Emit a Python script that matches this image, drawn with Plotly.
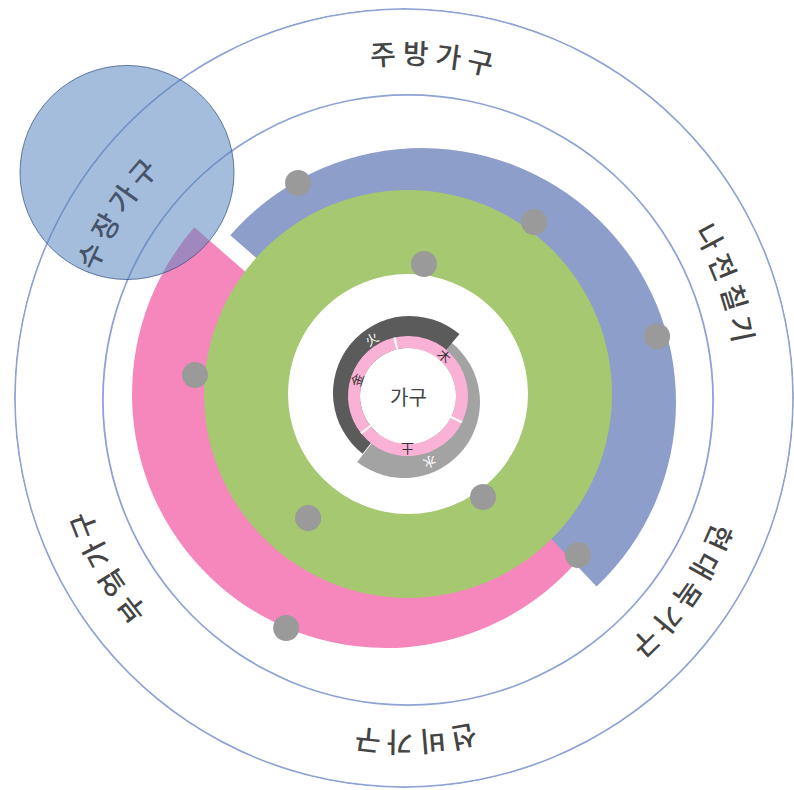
import math
import plotly.graph_objects as go

W, H = 794, 790

# ---------------- data ----------------
outer_labels = ["주방가구", "나전칠기", "현대목가구", "선비가구", "부엌가구", "수장가구"]
outer_label_angles = [85.3, 19.6, -34.6, -88.0, 209.7, 147.4]
outer_label_colors = ["#444444", "#444444", "#444444", "#444444", "#444444", "#46536A"]
label_radius = 346
label_step = 5.4

ring_radii = [390, 306]

pink_arc = dict(start=139, end=320, inner=175, outer=254)
blue_arc = dict(start=-46.6, end=139, inner=170, outer=254)
green_ring = dict(inner=120, outer=204)

light_gray_arc = dict(start=-128, end=52, inner=45, outer=76)
dark_gray_arc = dict(start=50, end=232, inner=45, outer=77)

center_disk_r = 48
pink_ring_width = 12
pink_dividers = [-26, 103, 218.5]

dot_r = [239.7, 214.8, 133, 256.1, 214, 125.8, 157.7, 232.8, 262.1]
dot_theta = [117.3, 54.1, 83.1, 13.5, 174.4, -53.4, -129.3, -43.1, -117.7]

element_chars = ["木", "火", "金", "土", "水"]
element_theta = [48, 122, 162, -90, -72]
element_r = [54, 68, 54, 54, 70]
element_colors = ["#333333", "#ffffff", "#333333", "#333333", "#ffffff"]

center_label = "가구"
bubble_r = 106

# subplot centers (pixel) and radii
centers = {
    "polar": (404, 398, 390),
    "polar2": (408, 400, 308),
    "polar3": (386, 394, 260),
    "polar4": (422, 402, 260),
    "polar5": (408, 394, 210),
    "polar6": (404, 402, 85),
    "polar7": (410, 393, 85),
    "polar8": (408, 396, 290),
    "polar9": (127, 172.5, 107),
}

RING_COLOR = "#8FA2D4"
PINK = "#F587BD"
BLUE = "#8E9ECB"
GREEN = "#A5C870"
DOT = "#9A9A9A"
DARK_GRAY = "#5B5B5B"
LIGHT_GRAY = "#A3A3A3"
PINK_LIGHT = "#F9B2D6"
BUBBLE = "rgba(90,135,191,0.55)"


def dom(cx, cy, R):
    return dict(x=[(cx - R) / W, (cx + R) / W], y=[(H - cy - R) / H, (H - cy + R) / H])


def arc_bar(arc, color, subplot):
    width = (arc["end"] - arc["start"]) % 360
    return go.Barpolar(theta=[arc["start"] + width / 2], width=[width], base=[arc["inner"]],
                       r=[arc["outer"] - arc["inner"]], marker=dict(color=color, line=dict(width=0)),
                       subplot=subplot, hoverinfo="skip", showlegend=False)


fig = go.Figure()

# outer guide circles
for sp, R in zip(["polar", "polar2"], ring_radii):
    fig.add_trace(go.Barpolar(theta=[0], width=[360], base=[R - 1.8], r=[1.8],
                              marker=dict(color=RING_COLOR, line=dict(width=0)),
                              subplot=sp, hoverinfo="skip", showlegend=False))

fig.add_trace(arc_bar(pink_arc, PINK, "polar3"))
fig.add_trace(arc_bar(blue_arc, BLUE, "polar4"))
fig.add_trace(go.Barpolar(theta=[0], width=[360], base=[green_ring["inner"]],
                          r=[green_ring["outer"] - green_ring["inner"]],
                          marker=dict(color=GREEN, line=dict(width=0)),
                          subplot="polar5", hoverinfo="skip", showlegend=False))
fig.add_trace(arc_bar(light_gray_arc, LIGHT_GRAY, "polar6"))
fig.add_trace(arc_bar(dark_gray_arc, DARK_GRAY, "polar7"))

# center: white disk, pink ring, white dividers
fig.add_trace(go.Barpolar(theta=[0], width=[360], base=[0], r=[center_disk_r],
                          marker=dict(color="white", line=dict(width=0)),
                          subplot="polar8", hoverinfo="skip", showlegend=False))
seg_c, seg_w = [], []
for i in range(len(pink_dividers)):
    a = pink_dividers[i]
    b = pink_dividers[(i + 1) % len(pink_dividers)]
    w = (b - a) % 360
    seg_c.append(a + w / 2)
    seg_w.append(w)
fig.add_trace(go.Barpolar(theta=seg_c, width=seg_w, base=[center_disk_r] * len(seg_c),
                          r=[pink_ring_width] * len(seg_c),
                          marker=dict(color=PINK_LIGHT, line=dict(width=0)),
                          subplot="polar8", hoverinfo="skip", showlegend=False))
fig.add_trace(go.Barpolar(theta=pink_dividers, width=[2.2] * len(pink_dividers),
                          base=[center_disk_r - 1] * len(pink_dividers),
                          r=[pink_ring_width + 1] * len(pink_dividers),
                          marker=dict(color="white", line=dict(width=0)),
                          subplot="polar8", hoverinfo="skip", showlegend=False))
fig.add_trace(go.Scatterpolar(r=dot_r, theta=dot_theta, mode="markers",
                              marker=dict(size=26, color=DOT), cliponaxis=False,
                              subplot="polar8", hoverinfo="skip", showlegend=False))

# translucent bubble
fig.add_trace(go.Barpolar(theta=[0], width=[360], base=[0], r=[bubble_r],
                          marker=dict(color=BUBBLE, line=dict(width=0)),
                          subplot="polar9", hoverinfo="skip", showlegend=False))

layout = dict(width=W, height=H, margin=dict(l=0, r=0, t=0, b=0), autosize=False,
              paper_bgcolor="white", plot_bgcolor="white", showlegend=False)
for sp, (cx, cy, R) in centers.items():
    ang = dict(visible=False, rotation=0, direction="counterclockwise")
    if sp == "polar9":
        ang = dict(visible=True, showline=True, linecolor="rgba(50,80,130,0.75)", linewidth=1,
                   showticklabels=False, ticks="", showgrid=False,
                   rotation=0, direction="counterclockwise")
    layout[sp] = dict(domain=dom(cx, cy, R), bgcolor="rgba(0,0,0,0)", barmode="overlay",
                      radialaxis=dict(visible=False, range=[0, R if sp != "polar9" else bubble_r]),
                      angularaxis=ang)
fig.update_layout(**layout)

# curved outer labels
annotations = []
lcx, lcy = 404, 398
for text, mid, col in zip(outer_labels, outer_label_angles, outer_label_colors):
    n = len(text)
    for i, ch in enumerate(text):
        th = mid + label_step * ((n - 1) / 2 - i)
        x = (lcx + label_radius * math.cos(math.radians(th))) / W
        y = 1 - (lcy - label_radius * math.sin(math.radians(th))) / H
        annotations.append(dict(x=x, y=y, xref="paper", yref="paper", text=ch, showarrow=False,
                                xanchor="center", yanchor="middle", textangle=90 - th,
                                font=dict(family="Noto Sans CJK KR", size=28, weight=500, color=col)))

# center element labels
ccx, ccy = centers["polar8"][0], centers["polar8"][1]
for ch, th, r, col in zip(element_chars, element_theta, element_r, element_colors):
    x = (ccx + r * math.cos(math.radians(th))) / W
    y = 1 - (ccy - r * math.sin(math.radians(th))) / H
    annotations.append(dict(x=x, y=y, xref="paper", yref="paper", text=ch, showarrow=False,
                            xanchor="center", yanchor="middle", textangle=90 - th,
                            font=dict(family="Noto Sans CJK SC", size=13, color=col)))
annotations.append(dict(x=ccx / W, y=1 - ccy / H, xref="paper", yref="paper", text=center_label,
                        showarrow=False, xanchor="center", yanchor="middle",
                        font=dict(family="Noto Sans CJK KR", size=20, color="#444444")))
fig.update_layout(annotations=annotations)

fig.write_html("out.html", config={"displayModeBar": False},
               post_script="document.body.style.margin='0';")
